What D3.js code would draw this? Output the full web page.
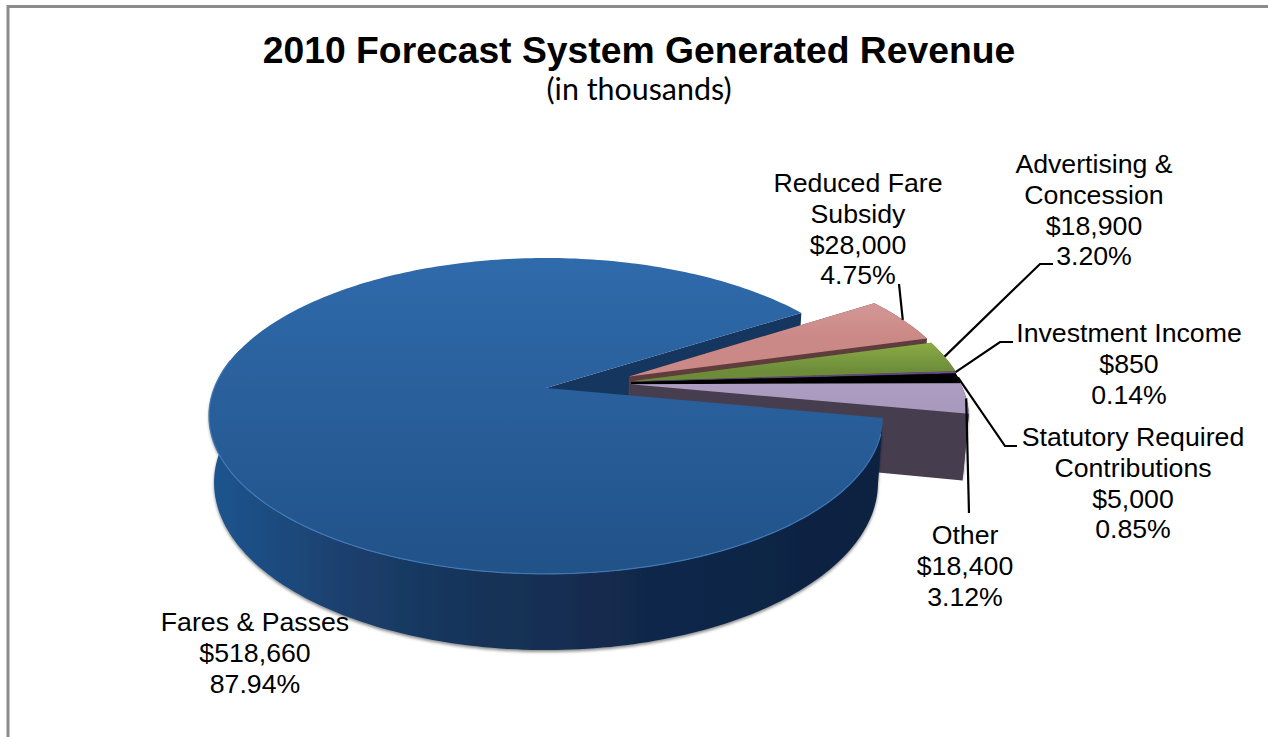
<!DOCTYPE html>
<html>
<head>
<meta charset="utf-8">
<title>2010 Forecast System Generated Revenue</title>
<script src="https://cdnjs.cloudflare.com/ajax/libs/d3/7.8.5/d3.min.js"></script>
<style>
  html, body { margin: 0; padding: 0; background: #fff; overflow: hidden; }
  text { font-family: "Liberation Sans", Arial, sans-serif; fill: #000; }
</style>
</head>
<body>
<div id="chart"></div>
<script>
// data (dollars in thousands)
var categories = ["Fares & Passes", "Reduced Fare Subsidy", "Advertising & Concession",
  "Investment Income", "Statutory Required Contributions", "Other"];
var revenue = [518660, 28000, 18900, 850, 5000, 18400];
var labelLines = [["Fares & Passes"], ["Reduced Fare", "Subsidy"], ["Advertising &", "Concession"],
  ["Investment Income"], ["Statutory Required", "Contributions"], ["Other"]];

var svgWidth = 1268;
var svgHeight = 737;

// slice styles, same order as categories
var topColors = [["#2f6aab", "#215288"], ["#d49795", "#ca8886"], ["#8bab45", "#6c8c3a"],
  ["#7a57a6", "#6a4a94"], ["#000000", "#000000"], ["#ad9dc2", "#a898bc"]];
var wallColors = ["#15375f", "#5f3d3d", "#4d6028", "#4a3366", "#000000", "#463e4e"];
// explosion offsets of the small slices, in pie radius units
var explode = [[0, 0], [0.254, -0.077], [0.261, -0.045], [0.26, -0.042], [0.258, -0.038], [0.256, -0.025]];

// label anchors [center x, first baseline] and leader elbows
var labelPos = [[255, 631], [858, 192], [1094, 173], [1129, 342], [1133, 446], [965, 544]];
var leaders = [null, [[899, 284]], [[1040, 264], [1053, 264]], [[1000, 342], [1013, 342]],
  [[1005, 446], [1017, 446]], [[969, 513]]];

// perspective of the pie plane, u to the right, v towards the viewer
var pie3d = { cx: 546, cy: 388, rx: 331.7, ry: 153, k: 0.177, depth: 65, sx: 0.985, sy: 1.06 };

function project(u, v, bottom) {
  var w = 1 - pie3d.k * v;
  var sx = bottom ? pie3d.sx : 1;
  var sy = bottom ? pie3d.sy : 1;
  return [pie3d.cx + sx * pie3d.rx * u / w,
    pie3d.cy + (bottom ? pie3d.depth : 0) + sy * pie3d.ry * v / w];
}

// point on a slice: angle clockwise from the top, r 0 at the apex and 1 at the rim
function slicePoint(i, angle, r, bottom) {
  return project(explode[i][0] + r * Math.sin(angle), explode[i][1] - r * Math.cos(angle), bottom);
}

function rimPoints(i, a0, a1, bottom) {
  var n = Math.max(2, Math.ceil(Math.abs(a1 - a0) / 0.02));
  return d3.range(n + 1).map(function(j) {
    return slicePoint(i, a0 + (a1 - a0) * j / n, 1, bottom);
  });
}

var total = d3.sum(revenue);
var formatDollar = d3.format("$,");
var formatPercent = d3.format(".2%");

var startAngle = 100.9 * Math.PI / 180;
var arcs = d3.pie().sort(null)
  .startAngle(startAngle)
  .endAngle(startAngle + 2 * Math.PI)(revenue);

var svg = d3.select("#chart")
  .append("svg")
  .attr("width", svgWidth)
  .attr("height", svgHeight);

var line = d3.line();
var defs = svg.append("defs");

// gradients of the top faces
topColors.forEach(function(c, i) {
  var pts = rimPoints(i, arcs[i].startAngle, arcs[i].endAngle, false);
  var grad = defs.append("linearGradient")
    .attr("id", "top" + i)
    .attr("gradientUnits", "userSpaceOnUse")
    .attr("x1", 0).attr("x2", 0)
    .attr("y1", d3.min(pts, d => d[1]))
    .attr("y2", d3.max(pts, d => d[1]));
  grad.append("stop").attr("offset", "0%").attr("stop-color", c[0]);
  grad.append("stop").attr("offset", "100%").attr("stop-color", c[1]);
});

var sideGrad = defs.append("linearGradient")
  .attr("id", "side0")
  .attr("gradientUnits", "userSpaceOnUse")
  .attr("x1", 208).attr("x2", 881).attr("y1", 0).attr("y2", 0);
[[0, "#1f558f"], [0.11, "#1b4a7d"], [0.21, "#1b3f6c"], [0.4, "#163358"], [0.65, "#11284a"], [1, "#0e2240"]]
  .forEach(function(s) {
    sideGrad.append("stop").attr("offset", s[0]).attr("stop-color", s[1]);
  });

var shadow = defs.append("filter")
  .attr("id", "shadow")
  .attr("x", "-5%").attr("y", "-5%").attr("width", "110%").attr("height", "110%");
shadow.append("feDropShadow")
  .attr("dx", 0).attr("dy", 2).attr("stdDeviation", 1.5)
  .attr("flood-color", "#000").attr("flood-opacity", 0.45);

// frame, only top and left show in the picture
svg.append("path")
  .attr("d", "M8,737V6.5H1268")
  .attr("fill", "none")
  .attr("stroke", "#8c8c8c")
  .attr("stroke-width", 3);

var pieGroup = svg.append("g");

// wall of a slice along the edge at one angle
function drawWall(i, angle) {
  var pts = [slicePoint(i, angle, 0, false), slicePoint(i, angle, 1, false),
    slicePoint(i, angle, 1, true), slicePoint(i, angle, 0, true)];
  pieGroup.append("path")
    .attr("d", line(pts) + "Z")
    .attr("fill", wallColors[i]);
}

function drawOuter(i, a0, a1, fill) {
  var pts = rimPoints(i, a0, a1, false).concat(rimPoints(i, a1, a0, true));
  return pieGroup.append("path")
    .attr("d", line(pts) + "Z")
    .attr("fill", fill);
}

function drawTop(i) {
  var pts = [slicePoint(i, arcs[i].startAngle, 0, false)]
    .concat(rimPoints(i, arcs[i].startAngle, arcs[i].endAngle, false));
  pieGroup.append("path")
    .attr("d", line(pts) + "Z")
    .attr("fill", "url(#top" + i + ")");
}

// back of the big slice shows in the notch
drawWall(0, arcs[0].endAngle);

// small slices, back to front
d3.range(1, arcs.length).forEach(function(i) {
  var outer = drawOuter(i, arcs[i].startAngle, arcs[i].endAngle, wallColors[i]);
  if (i === arcs.length - 1) outer.attr("filter", "url(#shadow)");
  drawWall(i, arcs[i].endAngle);
  drawWall(i, arcs[i].startAngle);
  drawTop(i);
});

// big slice goes last, it sits in front of all the others
// its outer side stops at the left edge, the back part is hidden anyway
var leftEdge = 285 * Math.PI / 180;
drawOuter(0, arcs[0].startAngle, leftEdge, "url(#side0)")
  .attr("filter", "url(#shadow)");
drawTop(0);
pieGroup.append("path")
  .attr("d", line(rimPoints(0, arcs[0].startAngle + 0.1, 4.9, false)))
  .attr("fill", "none")
  .attr("stroke", "#3f78b4")
  .attr("stroke-width", 1.2);

// leader lines start on the rim, in the middle of their slice
leaders.forEach(function(elbows, i) {
  if (!elbows) return;
  var mid = (arcs[i].startAngle + arcs[i].endAngle) / 2;
  svg.append("path")
    .attr("d", line([slicePoint(i, mid, 1, false)].concat(elbows)))
    .attr("fill", "none")
    .attr("stroke", "#000")
    .attr("stroke-width", 2.2);
});

// slice labels
var lineStep = 30.8;
categories.forEach(function(name, i) {
  var rows = labelLines[i].concat([formatDollar(revenue[i]), formatPercent(revenue[i] / total)]);
  var label = svg.append("text")
    .attr("class", "slice-label")
    .attr("text-anchor", "middle")
    .attr("font-size", 26.7);
  rows.forEach(function(row, j) {
    label.append("tspan")
      .attr("x", labelPos[i][0])
      .attr("y", labelPos[i][1] + j * lineStep)
      .text(row);
  });
});

svg.append("text")
  .attr("x", 639)
  .attr("y", 63)
  .attr("text-anchor", "middle")
  .attr("font-size", 37.3)
  .attr("font-weight", "bold")
  .text("2010 Forecast System Generated Revenue");

svg.append("text")
  .attr("x", 639)
  .attr("y", 100)
  .attr("text-anchor", "middle")
  .attr("font-size", 30.4)
  .style("font-family", "Lato, sans-serif")
  .text("(in thousands)");
</script>
</body>
</html>
